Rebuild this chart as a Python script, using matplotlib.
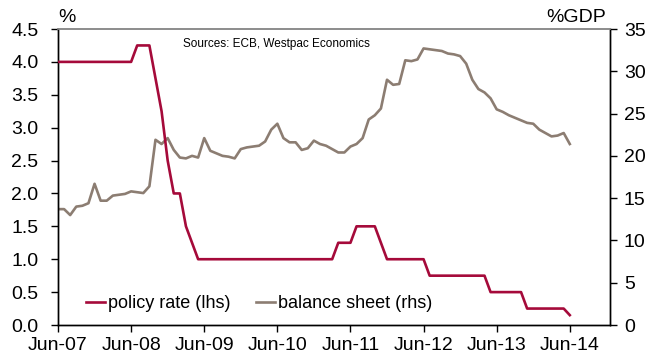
import matplotlib
matplotlib.use("Agg")
import matplotlib.pyplot as plt
import numpy as np

plt.rcParams['font.family'] = ['Liberation Sans', 'DejaVu Sans']

# Monthly observations, Jun-07 to Jun-14
tick_labels = ["Jun-07", "Jun-08", "Jun-09", "Jun-10", "Jun-11", "Jun-12", "Jun-13", "Jun-14"]

policy_rate = (
    [4.00] * 13 +                        # Jun-07 .. Jun-08
    [4.25] * 3 +                         # Jul-08 .. Sep-08
    [3.75, 3.25, 2.50, 2.00, 2.00, 1.50, 1.25] +   # Oct-08 .. Apr-09
    [1.00] * 23 +                        # May-09 .. Mar-11
    [1.25] * 3 +                         # Apr-11 .. Jun-11
    [1.50] * 4 +                         # Jul-11 .. Oct-11
    [1.25] +                             # Nov-11
    [1.00] * 7 +                         # Dec-11 .. Jun-12
    [0.75] * 10 +                        # Jul-12 .. Apr-13
    [0.50] * 6 +                         # May-13 .. Oct-13
    [0.25] * 7 +                         # Nov-13 .. May-14
    [0.15]                               # Jun-14
)

balance_sheet = [
    13.7, 13.7, 13.0, 14.0, 14.1, 14.4, 16.7, 14.7, 14.7, 15.3, 15.4, 15.5,
    15.8, 15.7, 15.6, 16.4, 21.9, 21.4, 22.1, 20.7, 19.8, 19.7, 20.0, 19.8,
    22.1, 20.6, 20.3, 20.0, 19.9, 19.7, 20.8, 21.0, 21.1, 21.2, 21.7, 23.1,
    23.8, 22.1, 21.6, 21.6, 20.7, 20.9, 21.8, 21.4, 21.2, 20.8, 20.4, 20.4,
    21.1, 21.4, 22.1, 24.3, 24.8, 25.6, 29.0, 28.4, 28.5, 31.3, 31.2, 31.4,
    32.7, 32.6, 32.5, 32.4, 32.1, 32.0, 31.8, 30.9, 29.0, 27.9, 27.5, 26.8,
    25.5, 25.2, 24.8, 24.5, 24.2, 23.9, 23.8, 23.1, 22.7, 22.3, 22.4, 22.7,
    21.4,
]

months = np.arange(len(policy_rate))

RED = "#A50A3A"
TAUPE = "#8C7D72"
FS = 14
LEG_FS = 13

fig = plt.figure(figsize=(6.61, 3.60), dpi=100)
ax = fig.add_axes([58 / 661, 1 - 325 / 360, (610 - 58) / 661, (325 - 29) / 360])
ax2 = ax.twinx()

l1, = ax.plot(months, policy_rate, color=RED, lw=1.9, label="policy rate (lhs)", zorder=3)
l2, = ax2.plot(months, balance_sheet, color=TAUPE, lw=1.9, label="balance sheet (rhs)")
ax.set_zorder(ax2.get_zorder() + 1)
ax.patch.set_visible(False)

ax.set_xlim(0, 90.6)
ax.set_ylim(0, 4.5)
ax2.set_ylim(0, 35)

ax.set_xticks(np.arange(0, 85, 12))
ax.set_xticklabels(tick_labels)
ax.set_yticks(np.arange(0, 4.51, 0.5))
ax.set_yticklabels([f"{v:.1f}" for v in np.arange(0, 4.51, 0.5)])
ax2.set_yticks(np.arange(0, 36, 5))

ax.tick_params(axis="x", direction="out", length=5, width=1, labelsize=FS, pad=4)
ax.tick_params(axis="y", direction="out", length=5, width=1, labelsize=FS, pad=9)
ax2.tick_params(axis="y", direction="out", length=5, width=1, labelsize=FS, pad=5)

for a in (ax, ax2):
    a.spines["top"].set_color("#8c8c8c")
    a.spines["top"].set_linewidth(1.2)
    for s in ("left", "right", "bottom"):
        a.spines[s].set_color("black")
        a.spines[s].set_linewidth(1)

fig.text(58 / 661, 1 - 22 / 360, "%", fontsize=FS, ha="left", va="baseline")
fig.text(606 / 661, 1 - 22 / 360, "%GDP", fontsize=FS, ha="right", va="baseline")
ax.text(183 / 661, 1 - 44 / 360, "Sources: ECB, Westpac Economics", fontsize=8.5,
        transform=fig.transFigure, ha="left", va="center")

ax.legend(handles=[l1, l2], loc="center left", bbox_to_anchor=(86 / 661, 1 - 304 / 360),
          bbox_transform=fig.transFigure, ncol=2, frameon=False, fontsize=LEG_FS,
          handlelength=1.05, handletextpad=0.15, columnspacing=1.45,
          borderaxespad=0, borderpad=0)

fig.savefig("out.png", dpi=100)
